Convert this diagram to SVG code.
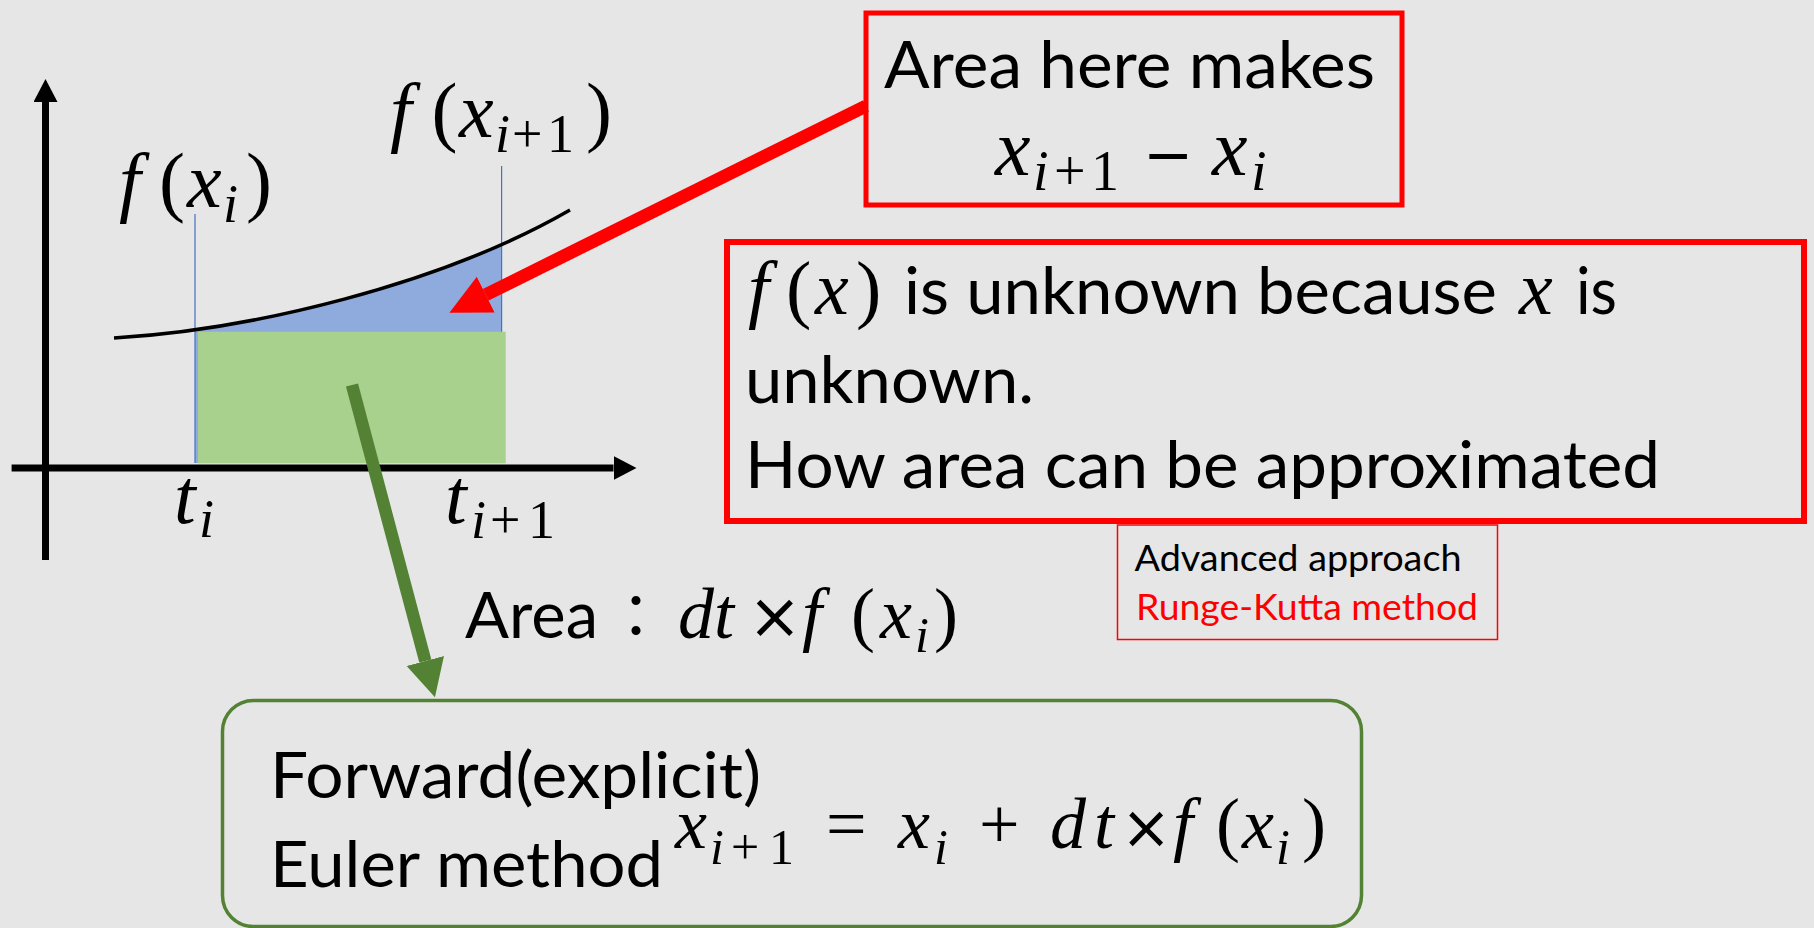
<svg xmlns="http://www.w3.org/2000/svg" width="1814" height="928" viewBox="0 0 1814 928">
  <style>
    .txt { font-family: Lato, "Liberation Sans", "Noto Sans CJK JP", sans-serif; fill: #000; }
    .cjk { font-family: "Noto Sans CJK JP", sans-serif; }
    .mi { font-family: "Liberation Serif", "DejaVu Serif", serif; font-style: italic; fill: #000; }
    .mu { font-family: "Liberation Serif", "DejaVu Serif", serif; font-style: normal; }
    .ms { font-family: "DejaVu Sans", sans-serif; font-style: normal; }
    .axis { stroke: #000; stroke-width: 7; fill: none; }
    .guide { stroke: #4472C4; stroke-width: 1.2; fill: none; }
    .redbox { fill: none; stroke: #FF0000; }
  </style>
  <defs>
    <marker id="axisHead" markerUnits="userSpaceOnUse" markerWidth="24" markerHeight="24" viewBox="0 -12 24 24" refX="0" refY="0" orient="auto">
      <path d="M0,-12 L23,0 L0,12 Z" fill="#000"/>
    </marker>
    <marker id="redHead" markerUnits="userSpaceOnUse" markerWidth="41" markerHeight="41" viewBox="0 -20.5 41 41" refX="0" refY="0" orient="auto">
      <path d="M0,-20 L40.5,0 L0,20 Z" fill="#FF0000"/>
    </marker>
    <marker id="greenHead" markerUnits="userSpaceOnUse" markerWidth="40" markerHeight="40" viewBox="0 -20 40 40" refX="0" refY="0" orient="auto">
      <path d="M0,-19.3 L37.6,0 L0,19.3 Z" fill="#548235"/>
    </marker>
    <clipPath id="underCurve">
      <path d="M114,338 C250,330 440,285 570,210 L570,463 L114,463 Z"/>
    </clipPath>
  </defs>

  <rect x="0" y="0" width="1814" height="928" fill="#E7E6E6"/>

  <!-- plot of f over one time step -->
  <g id="graph">
    <rect x="195" y="150" width="306.6" height="313.3" fill="#8FAADC" clip-path="url(#underCurve)"/>
    <line class="guide" x1="195" y1="214" x2="195" y2="463"/>
    <line class="guide" x1="501.6" y1="166" x2="501.6" y2="463"/>
    <rect x="198" y="331.7" width="307.7" height="131.6" fill="#A9D18E"/>
    <path d="M114,338 C250,330 440,285 570,210" fill="none" stroke="#000" stroke-width="3.5"/>
    <line class="axis" x1="45.5" y1="560" x2="45.5" y2="102" marker-end="url(#axisHead)"/>
    <line class="axis" x1="11.6" y1="468" x2="613.5" y2="468" marker-end="url(#axisHead)"/>
    <text class="mi" font-size="78">
      <tspan x="119" y="207">f</tspan><tspan class="mu" x="159" y="207">(</tspan><tspan x="187" y="207">x</tspan><tspan x="223" y="221.7" font-size="54">i</tspan><tspan class="mu" x="246" y="207">)</tspan>
    </text>
    <text class="mi" font-size="78">
      <tspan x="390" y="137">f</tspan><tspan class="mu" x="431.5" y="137">(</tspan><tspan x="459" y="137">x</tspan><tspan x="495" y="152" font-size="54">i</tspan><tspan class="mu" x="512" y="152" font-size="54">+</tspan><tspan class="mu" x="547" y="152" font-size="54">1</tspan><tspan class="mu" x="586" y="137">)</tspan>
    </text>
    <text class="mi" font-size="78">
      <tspan x="174" y="523">t</tspan><tspan x="199" y="537" font-size="54">i</tspan>
    </text>
    <text class="mi" font-size="78">
      <tspan x="445" y="523">t</tspan><tspan x="471" y="538" font-size="54">i</tspan><tspan class="mu" x="490" y="538" font-size="54">+</tspan><tspan class="mu" x="528" y="538" font-size="54">1</tspan>
    </text>
  </g>

  <!-- connectors -->
  <g id="connectors">
    <line x1="866" y1="106" x2="485.7" y2="294.7" stroke="#FF0000" stroke-width="13" marker-end="url(#redHead)"/>
    <line x1="352" y1="385" x2="425.3" y2="661" stroke="#548235" stroke-width="12.5" marker-end="url(#greenHead)"/>
  </g>

  <g id="box-area-difference">
    <rect class="redbox" x="866" y="13" width="536" height="192" stroke-width="5"/>
    <text class="txt" x="884" y="88.3" font-size="65" textLength="491" lengthAdjust="spacingAndGlyphs">Area here makes</text>
    <text class="mi" font-size="80">
      <tspan x="995" y="175">x</tspan><tspan x="1033" y="190" font-size="56">i</tspan><tspan class="mu" x="1054" y="190" font-size="56">+</tspan><tspan class="mu" x="1091" y="190" font-size="56">1</tspan><tspan class="ms" x="1143" y="175" font-size="60">−</tspan><tspan x="1212" y="175">x</tspan><tspan x="1251" y="190" font-size="56">i</tspan>
    </text>
  </g>

  <g id="box-unknown">
    <rect class="redbox" x="727" y="242" width="1077" height="279" stroke-width="6"/>
    <text class="mi" font-size="76">
      <tspan x="748" y="314">f</tspan><tspan class="mu" x="786" y="314">(</tspan><tspan x="815" y="314">x</tspan><tspan class="mu" x="856" y="314">)</tspan>
    </text>
    <text class="txt" x="904" y="314" font-size="66" textLength="593" lengthAdjust="spacingAndGlyphs">is unknown because</text>
    <text class="mi" x="1519" y="314" font-size="76">x</text>
    <text class="txt" x="1576" y="314" font-size="66" textLength="41" lengthAdjust="spacingAndGlyphs">is</text>
    <text class="txt" x="745" y="402.7" font-size="66" textLength="289" lengthAdjust="spacingAndGlyphs">unknown.</text>
    <text class="txt" x="745" y="487.7" font-size="66" textLength="915" lengthAdjust="spacingAndGlyphs">How area can be approximated</text>
  </g>

  <g id="box-advanced">
    <rect x="1117.5" y="525" width="380" height="114.5" fill="none" stroke="#FF0000" stroke-width="1.5"/>
    <text class="txt" x="1134.5" y="570.7" font-size="36" textLength="327" lengthAdjust="spacingAndGlyphs">Advanced approach</text>
    <text class="txt" x="1136" y="620" font-size="36" style="fill:#FF0000" textLength="342" lengthAdjust="spacingAndGlyphs">Runge-Kutta method</text>
  </g>

  <g id="label-area">
    <text class="txt" font-size="64"><tspan x="465" y="638.3" textLength="133" lengthAdjust="spacingAndGlyphs">Area</tspan><tspan class="cjk" x="606" y="638.3" font-size="60">：</tspan></text>
    <text class="mi" font-size="72">
      <tspan x="678" y="638">d</tspan><tspan x="714" y="638">t</tspan><tspan class="ms" x="748" y="638" font-size="64">×</tspan><tspan x="802" y="638">f</tspan><tspan class="mu" x="851" y="638">(</tspan><tspan x="880" y="638">x</tspan><tspan x="915" y="652" font-size="50">i</tspan><tspan class="mu" x="934" y="638">)</tspan>
    </text>
  </g>

  <g id="box-euler">
    <rect x="222.5" y="700.5" width="1139" height="226" rx="31" ry="31" fill="none" stroke="#548235" stroke-width="3.5"/>
    <text class="txt" x="270" y="798.3" font-size="63" textLength="491" lengthAdjust="spacingAndGlyphs">Forward(explicit)</text>
    <text class="txt" x="270" y="886.5" font-size="63" textLength="393" lengthAdjust="spacingAndGlyphs">Euler method</text>
    <text class="mi" font-size="72">
      <tspan x="675" y="848">x</tspan><tspan x="710" y="864" font-size="50">i</tspan><tspan class="mu" x="731" y="864" font-size="50">+</tspan><tspan class="mu" x="769" y="864" font-size="50">1</tspan><tspan class="mu" x="826" y="848">=</tspan><tspan x="898" y="848">x</tspan><tspan x="934" y="864" font-size="50">i</tspan><tspan class="mu" x="979" y="848">+</tspan><tspan x="1050" y="848">d</tspan><tspan x="1094" y="848">t</tspan><tspan class="ms" x="1121" y="848" font-size="60">×</tspan><tspan x="1173" y="848">f</tspan><tspan class="mu" x="1216" y="848">(</tspan><tspan x="1242" y="848">x</tspan><tspan x="1276" y="864" font-size="50">i</tspan><tspan class="mu" x="1302" y="848">)</tspan>
    </text>
  </g>
</svg>
